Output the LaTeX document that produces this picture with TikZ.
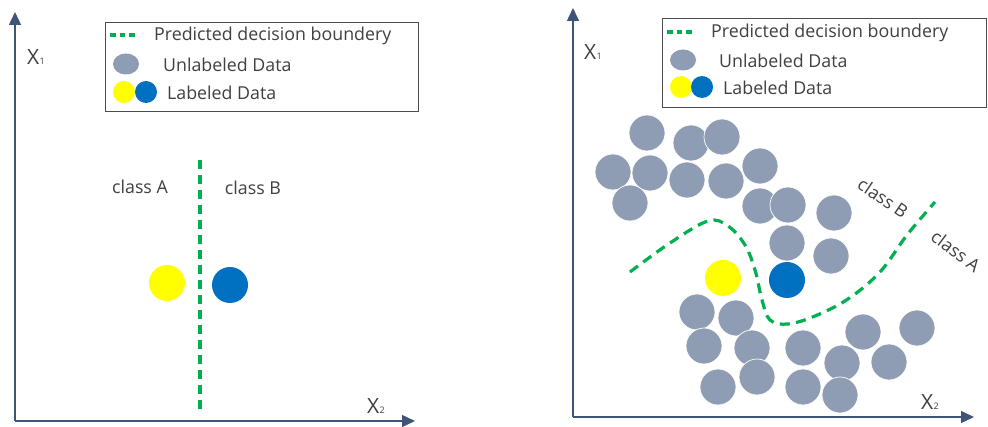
\documentclass[tikz,border=0pt]{standalone}
\usepackage{fontspec}
\setmainfont{Open Sans}
\usetikzlibrary{arrows.meta,shapes.geometric}
\definecolor{axisblue}{RGB}{62,84,120}
\definecolor{ptgray}{RGB}{142,157,179}
\definecolor{ptyellow}{RGB}{255,255,0}
\definecolor{ptblue}{RGB}{0,112,192}
\definecolor{bgreen}{RGB}{0,176,80}
\definecolor{txt}{RGB}{64,64,64}
\newcommand\axlab[1]{X\kern0.3pt{\fontsize{9}{9}\selectfont #1}}
\begin{document}
\begin{tikzpicture}[x=1pt,y=-1pt,
  axisline/.style={draw=axisblue, line width=1.4pt, -{Triangle[length=13pt,width=12pt]}},
  lbl/.style={font=\fontsize{17.8}{18}\selectfont, text=txt, inner sep=0pt},
  axl/.style={font=\fontsize{21}{21}\selectfont, text=txt, inner sep=0pt},
  legbox/.style={draw=black!70, line width=1pt, fill=white, inner sep=0pt, anchor=north west},
  boundary/.style={draw=bgreen, line width=3.2pt, dash pattern=on 9pt off 6pt},
  legdash/.style={draw=bgreen, line width=4.5pt, dash pattern=on 5.5pt off 4pt},
  unl/.style={circle, fill=ptgray, draw=white, line width=0.7pt, minimum size=36pt, inner sep=0pt},
  ylw/.style={circle, fill=ptyellow, minimum size=36pt, inner sep=0pt},
  blu/.style={circle, fill=ptblue, minimum size=36pt, inner sep=0pt},
  legunl/.style={ellipse, fill=ptgray, minimum width=26pt, minimum height=21pt, inner sep=0pt},
  legylw/.style={circle, fill=ptyellow, minimum size=22pt, inner sep=0pt},
  legblu/.style={circle, fill=ptblue, minimum size=22pt, inner sep=0pt},
]
\useasboundingbox[fill=white] (0,0) rectangle (988,427);

% ---------- left panel: labeled data only ----------
\coordinate (oL) at (15,421);
\coordinate (yL) at (15,12);
\coordinate (xL) at (415,421);
\draw[axisline] (oL) -- (yL);
\draw[axisline] (oL) -- (xL);
\node[axl, anchor=west] (x1L) at (27,57) {\axlab{1}};
\node[axl, anchor=west] (x2L) at (367,406) {\axlab{2}};

\node[legbox, minimum width=313pt, minimum height=89pt] (legL) at (105,22) {};
\coordinate (ldL1) at (110,35);
\coordinate (ldL2) at (134.5,35);
\draw[legdash] (ldL1) -- (ldL2);
\node[lbl, anchor=west] (tPL) at (154,36) {Predicted decision boundery};
\node[legunl] (luL) at (126,64) {};
\node[lbl, anchor=west] (tUL) at (163,65) {Unlabeled Data};
\node[legylw] (lyL) at (124,92) {};
\node[legblu] (lbL) at (146,92) {};
\node[lbl, anchor=west] (tLL) at (167,93) {Labeled Data};

\coordinate (bL1) at (200,160);
\coordinate (bL2) at (200,409);
\draw[boundary] (bL1) -- (bL2);
\node[lbl] (cAL) at (140,187) {class A};
\node[lbl] (cBL) at (253,188) {class B};
\node[ylw] (yL1) at (167,283) {};
\node[blu] (bL3) at (230,285) {};

% ---------- right panel: labeled and unlabeled data ----------
\coordinate (oR) at (573,417);
\coordinate (yR) at (573,8);
\coordinate (xR) at (974,417);
\draw[axisline] (oR) -- (yR);
\draw[axisline] (oR) -- (xR);
\node[axl, anchor=west] (x1R) at (584,52) {\axlab{1}};
\node[axl, anchor=west] (x2R) at (921,402) {\axlab{2}};

\node[legbox, minimum width=324pt, minimum height=89pt] (legR) at (662,18) {};
\coordinate (ldR1) at (667,32);
\coordinate (ldR2) at (691.5,32);
\draw[legdash] (ldR1) -- (ldR2);
\node[lbl, anchor=west] (tPR) at (711,33) {Predicted decision boundery};
\node[legunl] (luR) at (683,60) {};
\node[lbl, anchor=west] (tUR) at (719,61) {Unlabeled Data};
\node[legylw] (lyR) at (681,87) {};
\node[legblu] (lbR) at (702,87) {};
\node[lbl, anchor=west] (tLR) at (723,88) {Labeled Data};

\foreach \px/\py [count=\i] in {647/133, 691/143, 722/137, 613/172, 650/173, 687/180,
    726/181, 760/166, 630/203, 760/206, 788/205, 834/213, 787/243, 831/256,
    697/312, 736/318, 704/346, 752/348, 803/348, 863/332, 917/328, 889/362,
    842/363, 718/387, 757/377, 803/387, 840/395}
  \node[unl] (u\i) at (\px,\py) {};

\node[ylw] (yR1) at (723,278) {};
\node[blu] (bR1) at (787,280) {};

\draw[boundary, dash pattern=on 10pt off 6.5pt] plot[smooth, tension=0.6] coordinates {(630,272) (670,243) (708,221)
  (728,226) (745,245) (755,270) (762,300) (770,320) (788,324) (815,316)
  (848,299) (880,272) (907,235) (935,202)};
\node[lbl, rotate=-34] (cBR) at (883,198) {class B};
\node[lbl, rotate=-37] (cAR) at (956,251) {class A};
\end{tikzpicture}
\end{document}
